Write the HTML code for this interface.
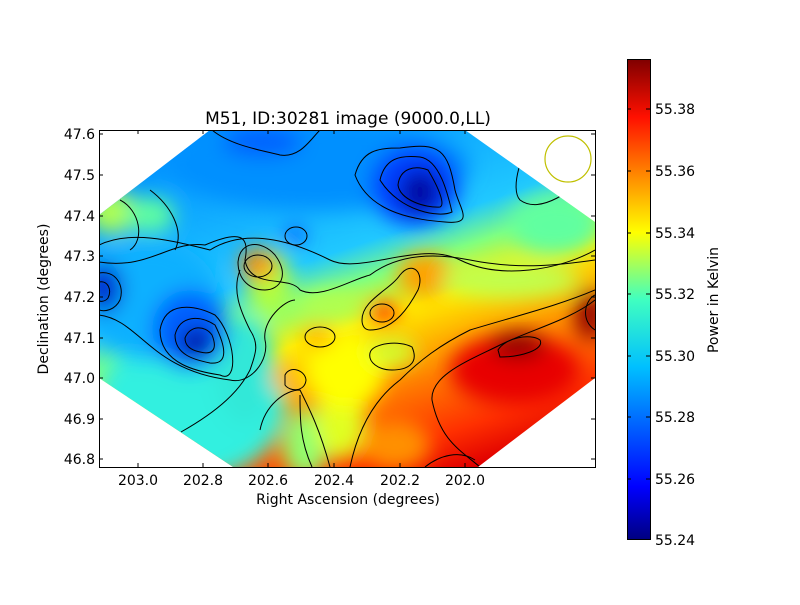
<!DOCTYPE html>
<html><head><meta charset="utf-8"><style>
body{margin:0;background:#fff;}
svg text{font-family:"DejaVu Sans","Liberation Sans",sans-serif;}
</style></head><body>
<svg width="800" height="600" viewBox="0 0 800 600" xmlns="http://www.w3.org/2000/svg">
<defs>
<linearGradient id="cb" x1="0" y1="1" x2="0" y2="0">
<stop offset="0" stop-color="#000080"/>
<stop offset="0.11" stop-color="#0000ff"/>
<stop offset="0.36" stop-color="#00c0ff"/>
<stop offset="0.5" stop-color="#40ffc0"/>
<stop offset="0.64" stop-color="#ffff00"/>
<stop offset="0.88" stop-color="#ff1000"/>
<stop offset="1" stop-color="#800000"/>
</linearGradient>
<linearGradient id="bg" x1="0.25" y1="0" x2="0.75" y2="1">
<stop offset="0" stop-color="#0090ff"/>
<stop offset="0.38" stop-color="#20c8ff"/>
<stop offset="0.47" stop-color="#80ff80"/>
<stop offset="0.57" stop-color="#ffee00"/>
<stop offset="0.75" stop-color="#ff8000"/>
<stop offset="0.9" stop-color="#ff3000"/>
<stop offset="1" stop-color="#e00000"/>
</linearGradient>
<clipPath id="cp"><polygon points="210,130 465,130 595,222 595,378 478,467 233,467 99,378 99,215"/></clipPath>
<filter id="bl" x="-50%" y="-50%" width="200%" height="200%"><feGaussianBlur stdDeviation="10"/></filter>
</defs>
<g clip-path="url(#cp)">
<rect x="99" y="130" width="496" height="337" fill="url(#bg)"/>
<g filter="url(#bl)">
<ellipse cx="190" cy="405" rx="95" ry="75" fill="#30f0e0"/>
<ellipse cx="150" cy="300" rx="70" ry="60" fill="#10b0ff"/>
<ellipse cx="245" cy="370" rx="30" ry="55" fill="#30e8d8"/>
<ellipse cx="305" cy="445" rx="22" ry="35" fill="#90ff70"/>
<ellipse cx="340" cy="420" rx="25" ry="40" fill="#e0ff20"/>
<ellipse cx="395" cy="445" rx="35" ry="25" fill="#ff9000"/>
<ellipse cx="515" cy="370" rx="65" ry="35" fill="#e80000"/>
<ellipse cx="320" cy="165" rx="150" ry="45" fill="#0090ff"/>
<ellipse cx="262" cy="142" rx="40" ry="15" fill="#0060ff"/>
<ellipse cx="415" cy="185" rx="45" ry="40" fill="#0040ff"/>
<ellipse cx="420" cy="192" rx="20" ry="22" fill="#0000a0"/>
<ellipse cx="295" cy="235" rx="10" ry="9" fill="#0050ff"/>
<ellipse cx="112" cy="212" rx="25" ry="22" fill="#b0ff50"/>
<ellipse cx="150" cy="215" rx="25" ry="18" fill="#60ffa0"/>
<ellipse cx="190" cy="330" rx="38" ry="40" fill="#0060ff"/>
<ellipse cx="196" cy="342" rx="16" ry="15" fill="#0000a0"/>
<ellipse cx="104" cy="288" rx="18" ry="25" fill="#0020d0"/>
<ellipse cx="270" cy="285" rx="22" ry="35" fill="#b0ff40"/>
<ellipse cx="258" cy="265" rx="18" ry="16" fill="#ff9000"/>
<ellipse cx="330" cy="305" rx="35" ry="15" fill="#b0ff50"/>
<ellipse cx="345" cy="370" rx="40" ry="40" fill="#ffff00"/>
<ellipse cx="318" cy="337" rx="14" ry="10" fill="#ffa000"/>
<ellipse cx="285" cy="380" rx="14" ry="12" fill="#ffb000"/>
<ellipse cx="425" cy="275" rx="28" ry="22" fill="#ffa000"/>
<ellipse cx="383" cy="313" rx="16" ry="11" fill="#ff3000"/>
<ellipse cx="392" cy="352" rx="24" ry="14" fill="#d0ff30"/>
<ellipse cx="510" cy="280" rx="70" ry="18" fill="#c0ff50"/>
<ellipse cx="555" cy="225" rx="45" ry="30" fill="#60ffa0"/>
<ellipse cx="518" cy="345" rx="28" ry="14" fill="#900000"/>
<ellipse cx="590" cy="315" rx="15" ry="25" fill="#900000"/>
</g>
<g fill="none" stroke="#000" stroke-width="1">
<path d="M355,175 C362,150 378,148 400,148 C440,142 448,150 455,190 C460,210 475,225 445,222 C420,220 370,215 355,175Z"/>
<path d="M380,180 C385,158 400,155 420,157 C440,160 448,195 452,212 C440,218 400,212 380,180Z"/>
<path d="M398,185 C400,168 415,165 428,170 C440,190 445,205 440,207 C425,208 400,200 398,185Z"/>
<path d="M160,330 C165,300 195,305 215,315 C235,335 240,385 220,375 C200,372 160,365 160,330Z"/>
<path d="M175,335 C180,315 200,315 215,325 C225,345 230,365 210,363 C195,360 175,355 175,335Z"/>
<path d="M185,338 C190,325 205,325 212,335 C218,350 212,355 200,352 C190,350 185,345 185,338Z"/>
<path d="M99,273 C115,270 125,285 120,300 C115,310 105,312 99,310"/>
<path d="M99,282 C108,280 112,290 108,298 C105,302 99,302 99,300"/>
<ellipse cx="258" cy="266" rx="14" ry="11"/>
<path d="M238,262 C240,240 262,240 275,255 C290,275 280,290 265,290 C250,290 238,280 238,262Z"/>
<ellipse cx="296" cy="236" rx="11" ry="9"/>
<ellipse cx="382" cy="313" rx="12" ry="9"/>
<path d="M362,320 C362,300 390,290 400,275 C412,260 425,272 418,290 C410,305 395,330 370,330 C364,330 362,325 362,320Z"/>
<ellipse cx="320" cy="337" rx="15" ry="10"/>
<path d="M370,353 C372,343 400,340 412,347 C420,365 405,370 392,370 C378,370 368,362 370,353Z"/>
<path d="M285,375 C290,365 305,370 306,380 C305,392 290,392 285,385Z"/>
<path d="M498,350 C505,338 530,333 540,340 C545,350 520,357 500,357Z"/>
<path d="M595,295 C585,300 580,320 595,330"/>
<path d="M99,245 C130,230 170,240 210,250 C250,225 300,245 330,260 C360,275 420,240 460,260 C500,280 560,270 595,250"/>
<path d="M99,262 C150,270 170,240 205,245 C240,230 250,235 245,260 C250,290 290,275 300,290 C320,300 350,280 370,275 C390,260 420,250 470,260 C520,270 560,265 595,260"/>
<path d="M480,467 C460,450 440,440 432,400 C430,375 470,360 500,345 C530,330 570,320 595,300"/>
<path d="M350,467 C360,420 380,395 400,380 C420,360 440,345 470,330 C520,315 560,305 595,290"/>
<path d="M181,432 C220,410 240,390 250,370 C255,355 260,345 250,330 C240,310 232,290 240,270"/>
<path d="M99,315 C140,320 150,370 230,380 C250,385 270,360 265,340 C262,320 285,300 295,300"/>
<path d="M260,430 C265,405 285,390 300,390 C310,410 320,430 330,467"/>
<path d="M312,467 C300,440 300,420 300,395"/>
<path d="M425,467 C440,455 460,450 475,460"/>
<path d="M540,130 C520,150 510,190 520,200 C540,215 575,190 590,170"/>
<path d="M212,130 C230,145 260,150 280,155 C300,158 310,140 320,130"/>
<path d="M150,190 C170,205 185,230 175,250"/>
<path d="M120,200 C140,210 145,240 130,250"/>
</g>
</g>
<rect x="99.5" y="130.5" width="496" height="337" fill="none" stroke="#000"/>
<circle cx="568" cy="159" r="23" fill="none" stroke="#c0c000" stroke-width="1.2"/>
<g stroke="#000" stroke-width="1">
<path d="M138,467v-4M203,467v-4M268,467v-4M334,467v-4M400,467v-4M465,467v-4M138,130v4M203,130v4M268,130v4M334,130v4M400,130v4M465,130v4"/>
<path d="M99,134h4M99,175h4M99,216h4M99,256h4M99,297h4M99,338h4M99,378h4M99,419h4M99,459h4M595,134h-4M595,175h-4M595,216h-4M595,256h-4M595,297h-4M595,338h-4M595,378h-4M595,419h-4M595,459h-4"/>
</g>
<g font-size="14" fill="#000" text-anchor="middle">
<text x="138" y="485">203.0</text><text x="203" y="485">202.8</text><text x="268" y="485">202.6</text><text x="334" y="485">202.4</text><text x="400" y="485">202.2</text><text x="465" y="485">202.0</text>
</g>
<g font-size="14" fill="#000" text-anchor="end">
<text x="95" y="139">47.6</text><text x="95" y="180">47.5</text><text x="95" y="221">47.4</text><text x="95" y="261">47.3</text><text x="95" y="302">47.2</text><text x="95" y="343">47.1</text><text x="95" y="383">47.0</text><text x="95" y="424">46.9</text><text x="95" y="464">46.8</text>
</g>
<text x="348" y="504" font-size="14" text-anchor="middle">Right Ascension (degrees)</text>
<text x="48" y="299" font-size="14" text-anchor="middle" transform="rotate(-90 48 299)">Declination (degrees)</text>
<text x="348" y="124" font-size="17" text-anchor="middle">M51, ID:30281 image (9000.0,LL)</text>
<rect x="627.5" y="59.5" width="23" height="480" fill="url(#cb)" stroke="#000"/>
<g stroke="#000"><path d="M627,109h4M627,171h4M627,233h4M627,294h4M627,356h4M627,417h4M627,479h4M650,109h-4M650,171h-4M650,233h-4M650,294h-4M650,356h-4M650,417h-4M650,479h-4"/></g>
<g font-size="14" fill="#000">
<text x="655" y="114">55.38</text><text x="655" y="176">55.36</text><text x="655" y="238">55.34</text><text x="655" y="299">55.32</text><text x="655" y="361">55.30</text><text x="655" y="422">55.28</text><text x="655" y="484">55.26</text><text x="655" y="545">55.24</text>
</g>
<text x="718" y="300" font-size="14" text-anchor="middle" transform="rotate(-90 718 300)">Power in Kelvin</text>
</svg>
</body></html>
